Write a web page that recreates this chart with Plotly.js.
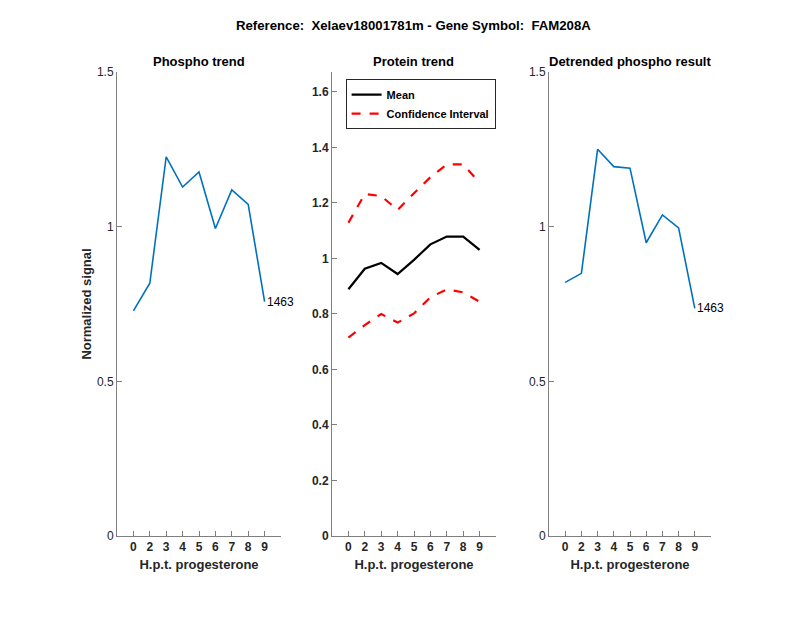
<!DOCTYPE html>
<html><head><meta charset="utf-8">
<script src="https://cdn.plot.ly/plotly-3.0.1.min.js"></script>
<style>body{margin:0;padding:0;background:#fff}#c{width:800px;height:618px}</style>
</head><body><div id="c"></div>
<script>
const categories = ['0','2','3','4','5','6','7','8','9'];
const phospho = [0.728,0.817,1.226,1.128,1.177,0.994,1.119,1.072,0.758];
const detrended = [0.820,0.849,1.250,1.194,1.189,0.948,1.038,0.996,0.736];
const proteinMean = [0.889,0.963,0.984,0.944,0.995,1.051,1.079,1.079,1.031];
const ciUpper = [1.129,1.232,1.225,1.175,1.235,1.293,1.339,1.339,1.273];
const ciLower = [0.715,0.760,0.800,0.769,0.802,0.860,0.889,0.878,0.844];
const peptideId = '1463';
const mainTitle = 'Reference:  Xelaev18001781m - Gene Symbol:  FAM208A';
const panelTitles = ['Phospho trend','Protein trend','Detrended phospho result'];
const xTitle = 'H.p.t. progesterone';
const yTitle = 'Normalized signal';

const FONT = 'Liberation Sans, Arial, sans-serif';
const AX = '#7f7f7f', TXT = '#262626';
const blue = '#0072BD';
const lastIdx = categories.length - 1;

const traces = [
  {x:categories,y:phospho,xaxis:'x',yaxis:'y',mode:'lines',line:{color:blue,width:1.6},showlegend:false},
  {x:categories,y:proteinMean,xaxis:'x2',yaxis:'y2',mode:'lines',name:'Mean',line:{color:'#000',width:2.2}},
  {x:categories,y:ciUpper,xaxis:'x2',yaxis:'y2',mode:'lines',name:'Confidence Interval',line:{color:'#ff0000',width:2.2,dash:'dash'}},
  {x:categories,y:ciLower,xaxis:'x2',yaxis:'y2',mode:'lines',showlegend:false,line:{color:'#ff0000',width:2.2,dash:'dash'}},
  {x:categories,y:detrended,xaxis:'x3',yaxis:'y3',mode:'lines',line:{color:blue,width:1.6},showlegend:false}
];

function xax(dom){
  return {domain:dom,type:'category',range:[-1,9],showline:true,linecolor:AX,linewidth:1,
    ticks:'inside',ticklen:5,tickcolor:AX,showgrid:false,zeroline:false,
    tickfont:{family:FONT,size:12,color:TXT,weight:'bold'},
    title:{text:'<b>'+xTitle+'</b>',font:{family:FONT,size:13,color:TXT},standoff:6},
    fixedrange:true};
}
function yax(range,tickvals,ticktext,anchor,bold){
  return {domain:[0.1327,0.8835],range:range,anchor:anchor,showline:true,linecolor:AX,linewidth:1,
    ticks:'inside',ticklen:5,tickcolor:AX,showgrid:false,zeroline:false,
    tickvals:tickvals,ticktext:ticktext,
    tickfont:{family:FONT,size:12,color:TXT,weight:bold?'bold':'normal'},fixedrange:true};
}

const layout = {
  width:800,height:618,margin:{l:0,r:0,t:0,b:0},paper_bgcolor:'#fff',plot_bgcolor:'rgba(0,0,0,0)',
  font:{family:FONT,color:TXT},
  xaxis:Object.assign(xax([0.14625,0.35125]),{anchor:'y'}),
  xaxis2:Object.assign(xax([0.415,0.62]),{anchor:'y2'}),
  xaxis3:Object.assign(xax([0.68625,0.88875]),{anchor:'y3'}),
  yaxis:Object.assign(yax([0,1.5],[0,0.5,1,1.5],['0','0.5','1','1.5'],'x',false),
    {title:{text:'<b>'+yTitle+'</b>',font:{family:FONT,size:13,color:TXT},standoff:2}}),
  yaxis2:yax([0,1.672],[0,0.2,0.4,0.6,0.8,1,1.2,1.4,1.6],['0','0.2','0.4','0.6','0.8','1','1.2','1.4','1.6'],'x2',true),
  yaxis3:yax([0,1.5],[0,0.5,1,1.5],['0','0.5','1','1.5'],'x3',false),
  showlegend:true,
  legend:{x:0.432,y:0.872,xanchor:'left',yanchor:'top',bgcolor:'#fff',bordercolor:'#262626',borderwidth:1,
    font:{family:FONT,size:11,color:'#000',weight:'bold'},tracegroupgap:0,itemwidth:30},
  annotations:[
    {text:'<b>'+mainTitle+'</b>',xref:'paper',yref:'paper',x:0.5175,y:0.958,xanchor:'center',yanchor:'middle',showarrow:false,font:{family:FONT,size:13.2,color:'#000'}},
    {text:'<b>'+panelTitles[0]+'</b>',xref:'paper',yref:'paper',x:(0.14625+0.35125)/2,y:0.901,xanchor:'center',yanchor:'middle',showarrow:false,font:{family:FONT,size:13,color:'#000'}},
    {text:'<b>'+panelTitles[1]+'</b>',xref:'paper',yref:'paper',x:(0.415+0.62)/2,y:0.901,xanchor:'center',yanchor:'middle',showarrow:false,font:{family:FONT,size:13,color:'#000'}},
    {text:'<b>'+panelTitles[2]+'</b>',xref:'paper',yref:'paper',x:(0.68625+0.88875)/2,y:0.901,xanchor:'center',yanchor:'middle',showarrow:false,font:{family:FONT,size:13,color:'#000'}},
    {text:peptideId,xref:'x',yref:'y',x:lastIdx,y:phospho[lastIdx],xanchor:'left',yanchor:'middle',xshift:0,showarrow:false,font:{family:FONT,size:12,color:'#000'}},
    {text:peptideId,xref:'x3',yref:'y3',x:lastIdx,y:detrended[lastIdx],xanchor:'left',yanchor:'middle',xshift:0,showarrow:false,font:{family:FONT,size:12,color:'#000'}}
  ]
};
Plotly.newPlot('c',traces,layout,{displayModeBar:false,staticPlot:true});
</script></body></html>
